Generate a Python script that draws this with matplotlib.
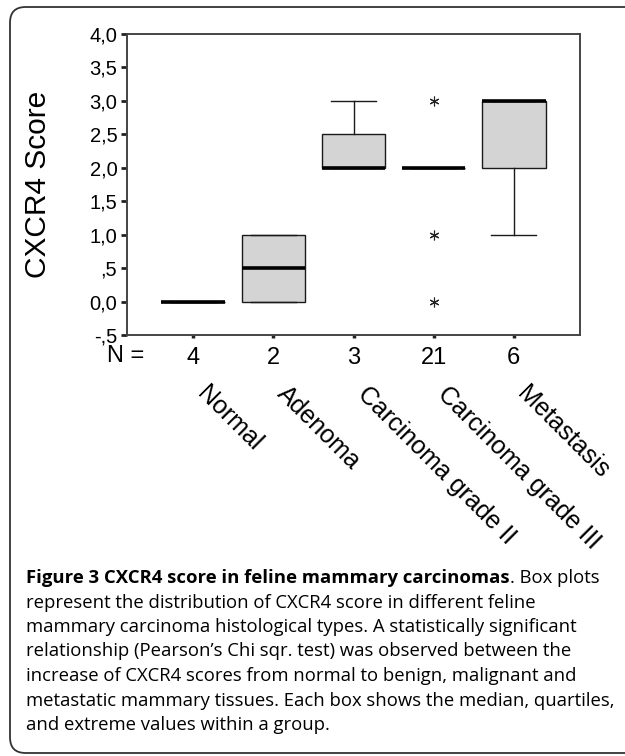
import matplotlib.pyplot as plt
from matplotlib.patches import FancyBboxPatch
from matplotlib import transforms

# data
categories = ['Normal', 'Adenoma', 'Carcinoma grade II', 'Carcinoma grade III', 'Metastasis']
n_counts = [4, 2, 3, 21, 6]
medians = [0.0, 0.5, 2.0, 2.0, 3.0]
q1 = [0.0, 0.0, 2.0, 2.0, 2.0]
q3 = [0.0, 1.0, 2.5, 2.0, 3.0]
whis_lo = [0.0, 0.0, 2.0, 2.0, 1.0]
whis_hi = [0.0, 1.0, 3.0, 2.0, 3.0]
extremes = [[], [], [], [3.0, 1.0, 0.0], []]

yticks = [-0.5, 0.0, 0.5, 1.0, 1.5, 2.0, 2.5, 3.0, 3.5, 4.0]
ytick_labels = ['-,5', '0,0', ',5', '1,0', '1,5', '2,0', '2,5', '3,0', '3,5', '4,0']

caption_bold = 'Figure 3 CXCR4 score in feline mammary carcinomas'
caption_first = '. Box plots'
caption_rest = [
    'represent the distribution of CXCR4 score in different feline',
    'mammary carcinoma histological types. A statistically significant',
    'relationship (Pearson\u2019s Chi sqr. test) was observed between the',
    'increase of CXCR4 scores from normal to benign, malignant and',
    'metastatic mammary tissues. Each box shows the median, quartiles,',
    'and extreme values within a group.',
]

plt.rcParams['font.family'] = ['Liberation Sans', 'DejaVu Sans']

fig = plt.figure(figsize=(6.25, 7.56), dpi=100)
W, H = 625, 756

# outer rounded frame (runs off the right and bottom edge)
frame = FancyBboxPatch((10 / W, 3 / H), 640 / W, 1 - 10 / H,
                       boxstyle='round,pad=0,rounding_size=0.025',
                       transform=fig.transFigure, fill=False,
                       edgecolor='#333333', linewidth=1.3, mutation_aspect=W / H)
fig.patches.append(frame)

ax = fig.add_axes([127 / W, 1 - 335 / H, 453 / W, 301 / H])

positions = list(range(1, len(categories) + 1))
stats = []
for i in range(len(categories)):
    stats.append({'med': medians[i], 'q1': q1[i], 'q3': q3[i],
                  'whislo': whis_lo[i], 'whishi': whis_hi[i],
                  'fliers': extremes[i]})

ax.bxp(stats, positions=positions, widths=0.79, capwidths=0.56,
       patch_artist=True, showfliers=True,
       boxprops=dict(facecolor='#d4d4d4', edgecolor='#1a1a1a', linewidth=1.0),
       medianprops=dict(color='black', linewidth=2.6, solid_capstyle='butt'),
       whiskerprops=dict(color='#1a1a1a', linewidth=1.0),
       capprops=dict(color='#1a1a1a', linewidth=1.0),
       flierprops=dict(marker=(6, 2, 0), markersize=7, markeredgecolor='#222222',
                       markeredgewidth=0.8, linestyle='none'))

ax.set_xlim(0.175, 5.825)
ax.set_ylim(-0.5, 4.0)
ax.set_yticks(yticks)
ax.set_yticklabels(ytick_labels, fontsize=14.5)
ax.set_xticks(positions)
ax.set_xticklabels([str(n) for n in n_counts], fontsize=17)
ax.tick_params(axis='y', direction='out', length=4, width=2, pad=3, color='#222222')
ax.tick_params(axis='x', direction='out', length=2.5, width=2.5, pad=6.5, color='#222222')
for s in ax.spines.values():
    s.set_linewidth(1.4)
    s.set_color('#444444')

ax.set_ylabel('CXCR4 Score', fontsize=21.5)
ax.yaxis.set_label_coords(-0.166, 0.5)

# "N =" row label sits under the left spine
ax.text(-0.044, -0.07, 'N =', transform=ax.transAxes, fontsize=17,
        ha='left', va='center')

# rotated group names under the N row
off = transforms.ScaledTranslation(16 / 100, -47 / 100, fig.dpi_scale_trans)
for p, name in zip(positions, categories):
    ax.text(p, 0, name, transform=ax.get_xaxis_transform() + off,
            rotation=-45, rotation_mode='anchor', ha='left', va='top', fontsize=18)

# caption
cap_font = ['Open Sans', 'DejaVu Sans']
cap_size = 13.3
cap_x = 26 / W
y0 = 1 - 578 / H
t = fig.text(cap_x, y0, caption_bold, family=cap_font, fontsize=cap_size,
             fontweight='bold', va='center', ha='left')
fig.canvas.draw()
bb = t.get_window_extent()
fig.text(bb.x1 / W, y0, caption_first, family=cap_font, fontsize=cap_size,
         va='center', ha='left')
for k, line in enumerate(caption_rest):
    fig.text(cap_x, 1 - (578 + 24.5 * (k + 1)) / H, line, family=cap_font,
             fontsize=cap_size, va='center', ha='left')

fig.savefig('out.png', dpi=100)
